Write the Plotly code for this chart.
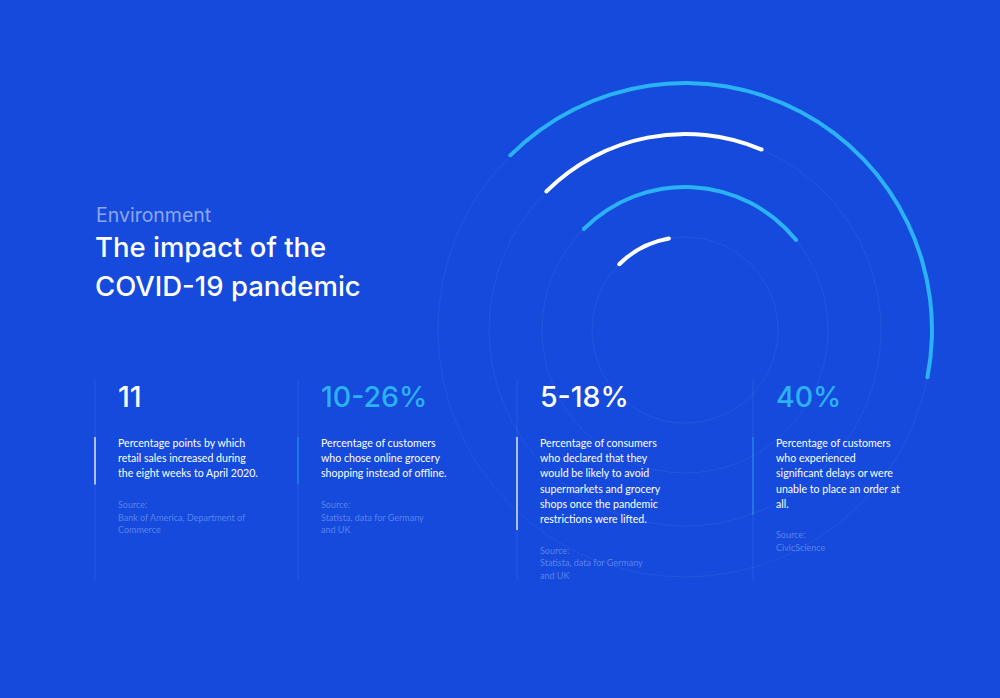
"""Infographic: the impact of the COVID-19 pandemic (concentric arcs + stat columns)."""

import plotly.graph_objects as go

W, H = 1000, 698
BG = "#154adc"
WHITE = "#ffffff"
SKY = "#2ab2f5"
FONT = "Lato"
HEAD_FONT = "Inter"

# --- data ---------------------------------------------------------------
stat_labels = ["11", "10-26%", "5-18%", "40%"]
stat_colors = [WHITE, SKY, WHITE, SKY]
descriptions = [
    ["Percentage points by which", "retail sales increased during",
     "the eight weeks to April 2020."],
    ["Percentage of customers", "who chose online grocery",
     "shopping instead of offline."],
    ["Percentage of consumers", "who declared that they",
     "would be likely to avoid", "supermarkets and grocery",
     "shops once the pandemic", "restrictions were lifted."],
    ["Percentage of customers", "who experienced",
     "significant delays or were", "unable to place an order at", "all."],
]
sources = [
    ["Source:", "Bank of America, Department of", "Commerce"],
    ["Source:", "Statista, data for Germany", "and UK"],
    ["Source:", "Statista, data for Germany", "and UK"],
    ["Source:", "CivicScience"],
]

# arcs, inner to outer (one per stat)
ring_radius = [93, 143, 196, 247]
arc_start_deg = [-45, -45, -45, -45]
arc_span_deg = [35, 96, 68, 146]
arc_colors = [WHITE, SKY, WHITE, SKY]


def fx(x):
    return x / W


def fy(y):
    return 1 - y / H


def text(fig, x, y, s, size, color, family=FONT, weight="normal"):
    fig.add_annotation(
        text=s, x=fx(x - 2), y=fy(y), xref="paper", yref="paper",
        xanchor="left", yanchor="middle", showarrow=False,
        font=dict(family=family, size=size, color=color, weight=weight),
    )


fig = go.Figure()

# arcs as thin polar bars sitting on each ring
fig.add_trace(go.Barpolar(
    r=[4] * len(ring_radius),
    base=[r - 2 for r in ring_radius],
    theta=[s + w / 2 for s, w in zip(arc_start_deg, arc_span_deg)],
    width=arc_span_deg,
    marker=dict(color=arc_colors, line=dict(width=0)),
    hoverinfo="skip",
))
# round caps at both ends of each arc
cap_theta = arc_start_deg + [s + w for s, w in zip(arc_start_deg, arc_span_deg)]
fig.add_trace(go.Scatterpolar(
    r=ring_radius * 2, theta=cap_theta, mode="markers",
    marker=dict(size=4, color=arc_colors * 2, line=dict(width=0)),
    hoverinfo="skip",
))

# polar area centred on (685, 330) px, 1 radial unit = 1 px
CX, CY, RP = 685, 330, 260
fig.update_layout(
    polar=dict(
        domain=dict(x=[fx(CX - RP), fx(CX + RP)], y=[fy(CY + RP), fy(CY - RP)]),
        bgcolor="rgba(0,0,0,0)",
        radialaxis=dict(range=[0, RP], tickvals=ring_radius, showticklabels=False,
                        ticks="", showline=False,
                        gridcolor="rgba(255,255,255,0.06)", gridwidth=1),
        angularaxis=dict(rotation=90, direction="clockwise", showgrid=False,
                         showline=False, showticklabels=False, ticks=""),
        bargap=0,
    ),
)

# headings
text(fig, 96, 215, "Environment", 19.5, "#8ea6ef", HEAD_FONT)
text(fig, 95, 247, "The impact of the", 27.5, WHITE, HEAD_FONT, 500)
text(fig, 95, 286, "COVID-19 pandemic", 27.5, WHITE, HEAD_FONT, 500)

# stat columns
col_x = [95, 298, 517, 753]
shapes = []
for i, cx in enumerate(col_x):
    n = len(descriptions[i])
    last = 443 + (n - 1) * 15.2
    shapes.append(dict(type="line", xref="paper", yref="paper",
                       x0=fx(cx), x1=fx(cx), y0=fy(380), y1=fy(580),
                       line=dict(color="rgba(255,255,255,0.08)", width=1)))
    hl = "rgba(255,255,255,0.85)" if stat_colors[i] == WHITE else "rgba(42,178,245,0.5)"
    shapes.append(dict(type="line", xref="paper", yref="paper",
                       x0=fx(cx), x1=fx(cx), y0=fy(437), y1=fy(last + 11),
                       line=dict(color=hl, width=1.5)))
    tx = cx + 23
    text(fig, tx, 396, stat_labels[i], 28.5, stat_colors[i], HEAD_FONT, 500)
    for j, line in enumerate(descriptions[i]):
        text(fig, tx, 443 + j * 15.2, line, 10.6, WHITE)
    for j, line in enumerate(sources[i]):
        text(fig, tx, last + 31 + j * 12.7, line, 9, "#5a82ea")

fig.update_layout(
    width=W, height=H,
    margin=dict(l=0, r=0, t=0, b=0),
    paper_bgcolor=BG, plot_bgcolor=BG,
    showlegend=False,
    shapes=shapes,
)

fig.write_html("out.html", config={"displayModeBar": False},
               post_script="document.body.style.margin='0';")
